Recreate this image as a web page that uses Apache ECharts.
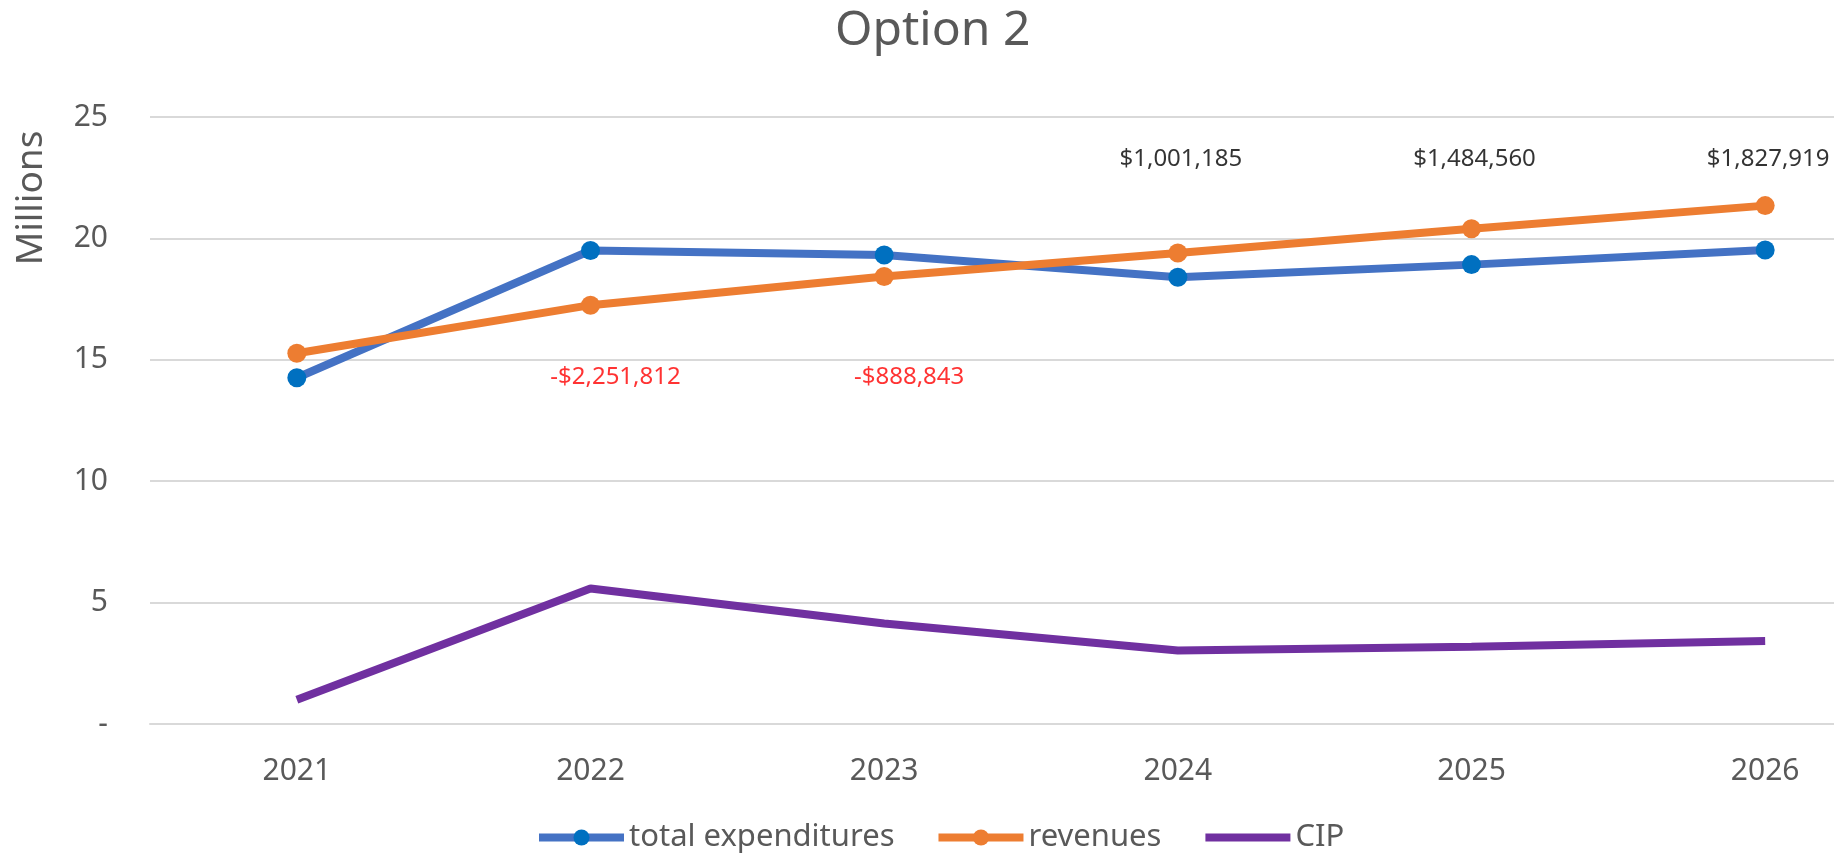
<!DOCTYPE html>
<html>
<head>
<meta charset="utf-8">
<title>Option 2</title>
<script src="https://cdn.jsdelivr.net/npm/echarts@6/dist/echarts.min.js"></script>
<style>
html, body { margin: 0; padding: 0; background: #fff; }
#chart { width: 1834px; height: 853px; }
</style>
</head>
<body>
<div id="chart"></div>
<script>
var years = ['2021', '2022', '2023', '2024', '2025', '2026'];
// millions
var expenditures = [14.26, 19.5, 19.32, 18.4, 18.92, 19.52];
var revenues = [15.27, 17.25, 18.43, 19.4, 20.4, 21.35];
var cip = [1.0, 5.58, 4.14, 3.03, 3.18, 3.42];
// revenues minus expenditures, dollars
var gaps = [null, -2251812, -888843, 1001185, 1484560, 1827919];

var textGrey = '#595959';
var gridGrey = '#d9d9d9';
var font = '"Noto Sans", "Open Sans", sans-serif';

function money(v) {
    var s = Math.abs(v).toString().replace(/\B(?=(\d{3})+(?!\d))/g, ',');
    return (v < 0 ? '-$' : '$') + s;
}

var gapPoints = [];
for (var i = 0; i < years.length; i++) {
    if (gaps[i] == null) continue;
    var neg = gaps[i] < 0;
    gapPoints.push({
        value: [years[i], neg ? 14.3 : 23.27],
        gap: gaps[i],
        label: {
            color: neg ? '#ff0000' : '#000000',
            offset: neg ? [25, 0] : [3, 0]
        }
    });
}

var myChart = echarts.init(document.getElementById('chart'));

var option = {
    animation: false,
    backgroundColor: '#ffffff',
    textStyle: { fontFamily: font },
    title: {
        text: 'Option 2',
        left: 830,
        top: 2,
        textStyle: {
            fontSize: 48,
            fontWeight: 'normal',
            color: textGrey,
            fontFamily: font
        }
    },
    graphic: [{
        type: 'text',
        x: 31,
        y: 198,
        rotation: Math.PI / 2,
        style: {
            text: 'Millions',
            fill: textGrey,
            font: '37px ' + font,
            textAlign: 'center',
            textVerticalAlign: 'middle'
        }
    }],
    legend: {
        left: 530,
        top: 817,
        itemWidth: 85,
        itemHeight: 20,
        itemGap: 40,
        lineStyle: { width: 8 },
        textStyle: { fontSize: 31, color: textGrey, fontFamily: font },
        data: [
            'total expenditures',
            'revenues',
            { name: 'CIP', itemStyle: { opacity: 0 } }
        ]
    },
    grid: {
        left: 150,
        right: -78,
        top: 117,
        bottom: 129,
        outerBoundsMode: 'none'
    },
    xAxis: {
        type: 'category',
        data: years,
        axisLine: { lineStyle: { color: gridGrey, width: 2 } },
        axisTick: { show: false },
        axisLabel: { fontSize: 30, color: textGrey, margin: 32 }
    },
    yAxis: {
        type: 'value',
        min: 0,
        max: 25,
        interval: 5,
        axisLine: { show: false },
        axisTick: { show: false },
        splitLine: { lineStyle: { color: gridGrey, width: 2 } },
        axisLabel: {
            fontSize: 30,
            color: textGrey,
            margin: 42,
            formatter: function (v) { return v === 0 ? '-' : v; }
        }
    },
    series: [
        {
            name: 'total expenditures',
            type: 'line',
            data: expenditures,
            symbol: 'circle',
            symbolSize: 19,
            lineStyle: { color: '#4472C4', width: 8 },
            itemStyle: { color: '#0070C0' },
            z: 3
        },
        {
            name: 'revenues',
            type: 'line',
            data: revenues,
            symbol: 'circle',
            symbolSize: 19,
            lineStyle: { color: '#ED7D31', width: 8 },
            itemStyle: { color: '#ED7D31' },
            z: 4
        },
        {
            name: 'CIP',
            type: 'line',
            data: cip,
            symbol: 'none',
            lineStyle: { color: '#7030A0', width: 8 },
            itemStyle: { color: '#7030A0' }
        },
        {
            name: 'gap',
            type: 'scatter',
            data: gapPoints,
            symbolSize: 0,
            silent: true,
            label: {
                show: true,
                position: 'inside',
                fontSize: 24,
                fontFamily: font,
                formatter: function (p) { return money(p.data.gap); }
            }
        }
    ]
};

myChart.setOption(option);

window.addEventListener('resize', function () {
    myChart.resize();
});
</script>
</body>
</html>
